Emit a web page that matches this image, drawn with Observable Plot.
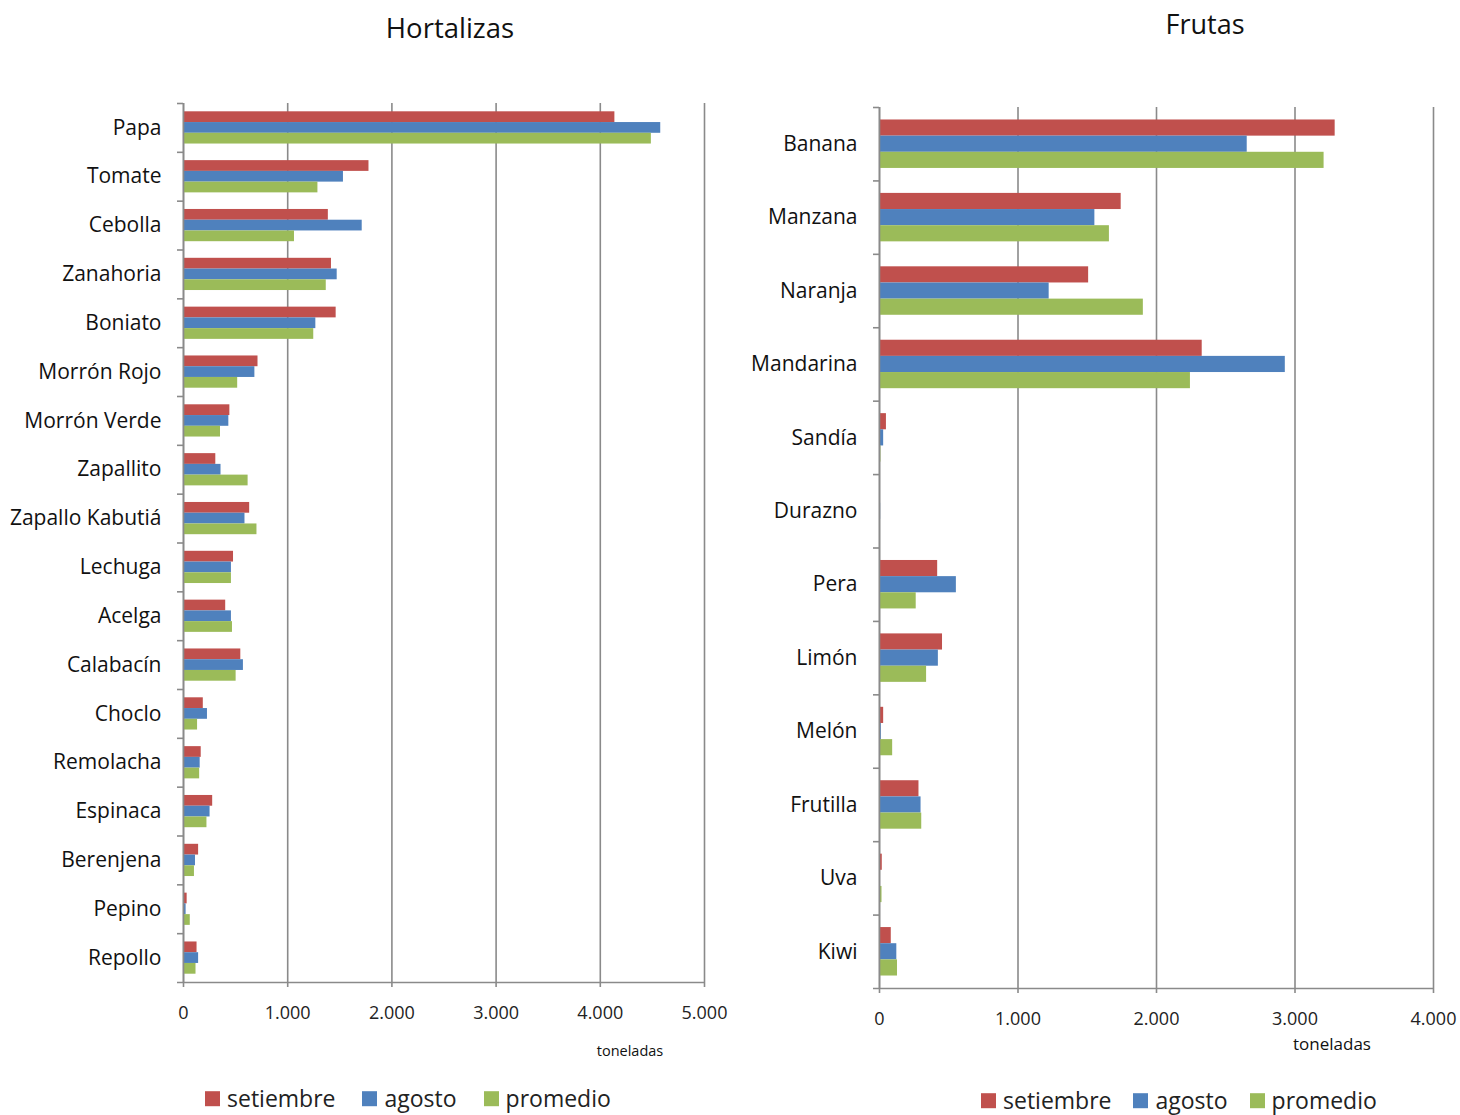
<!DOCTYPE html>
<html>
<head>
<meta charset="utf-8">
<script src="https://cdn.jsdelivr.net/npm/d3@7"></script>
<script src="https://cdn.jsdelivr.net/npm/@observablehq/plot@0.6"></script>
<style>
  body { margin: 0; background: #fff; font-family: "Open Sans", sans-serif; }
  #root { position: relative; width: 1460px; height: 1115px; overflow: hidden; background: #fff; }
  .abs { position: absolute; white-space: nowrap; color: #111; }
  .center { transform: translate(-50%, -50%); }
  .legend { position: absolute; display: flex; align-items: center; font-size: 23px; line-height: 1.2; color: #222; transform: translateY(-50%); }
  .legend .sw { display: inline-block; width: 15px; height: 15px; margin-right: 7px; }
  .legend .item { display: flex; align-items: center; }
  .panel { position: absolute; top: 0; }
  .panel svg { overflow: visible; }
</style>
</head>
<body>
<div id="root"></div>
<script>
// ---------- data ----------
const series = ["setiembre", "agosto", "promedio"];
const seriesColors = ["#C0504D", "#4F81BD", "#9BBB59"];

const hortCategories = ["Papa", "Tomate", "Cebolla", "Zanahoria", "Boniato", "Morrón Rojo", "Morrón Verde",
  "Zapallito", "Zapallo Kabutiá", "Lechuga", "Acelga", "Calabacín", "Choclo", "Remolacha", "Espinaca",
  "Berenjena", "Pepino", "Repollo"];
const hortSetiembre = [4140, 1780, 1390, 1420, 1465, 715, 445, 310, 635, 480, 405, 550, 190, 170, 280, 145, 35, 130];
const hortAgosto    = [4580, 1535, 1715, 1475, 1270, 685, 435, 360, 590, 460, 460, 575, 230, 160, 255, 115, 25, 145];
const hortPromedio  = [4490, 1290, 1065, 1370, 1250, 520, 355, 620, 705, 460, 470, 505, 135, 155, 225, 105, 65, 120];
const hortTicks = [0, 1000, 2000, 3000, 4000, 5000];

const frutCategories = ["Banana", "Manzana", "Naranja", "Mandarina", "Sandía", "Durazno", "Pera", "Limón",
  "Melón", "Frutilla", "Uva", "Kiwi"];
const frutSetiembre = [3290, 1745, 1510, 2330, 50, 0, 420, 455, 30, 285, 20, 85];
const frutAgosto    = [2655, 1555, 1225, 2930, 30, 8, 555, 425, 13, 300, 0, 125];
const frutPromedio  = [3210, 1660, 1905, 2245, 10, 4, 265, 340, 95, 305, 18, 130];
const frutTicks = [0, 1000, 2000, 3000, 4000];

const titles = ["Hortalizas", "Frutas"];
const unitLabel = "toneladas";

// ---------- helpers ----------
const fmt = d => d === 0 ? "0" : d3.format(",")(d).replace(/,/g, ".");
const GRID = "#8a8a8a";

function panel({categories, values, ticks, width, height, marginLeft, marginRight, marginTop, marginBottom}) {
  const rows = [];
  series.forEach((s, i) => categories.forEach((c, j) => rows.push({cat: c, series: s, value: values[i][j]})));
  const bw = (height - marginTop - marginBottom) / categories.length;
  const OUT = 0.17, BAR = 0.22;
  const bars = series.map((s, i) => Plot.barX(rows.filter(r => r.series === s), {
    y: "cat", x: "value", fill: seriesColors[i],
    insetTop: bw * (OUT + BAR * i),
    insetBottom: bw * (1 - OUT - BAR * (i + 1))
  }));
  const last = categories[categories.length - 1];
  const xmax = ticks[ticks.length - 1];
  return Plot.plot({
    width, height, marginLeft, marginRight, marginTop, marginBottom,
    style: {fontFamily: "Open Sans", background: "transparent", color: "#111"},
    x: {domain: [ticks[0], xmax]},
    y: {domain: categories, padding: 0, round: false},
    marks: [
      Plot.gridX(ticks, {stroke: GRID, strokeOpacity: 1, strokeWidth: 1.6}),
      ...bars,
      Plot.ruleX([0], {stroke: GRID, strokeWidth: 1.6}),
      Plot.axisX(ticks, {tickSize: 5, tickPadding: 19, fontSize: 18, tickFormat: fmt, stroke: GRID, strokeWidth: 1.6, fill: "#222", label: null}),
      Plot.axisY({tickSize: 0, tickPadding: 22, fontSize: 21, fill: "#111", label: null}),
      Plot.ruleY(categories, {y: d => d, x1: 0, x2: 0, insetLeft: -6, dy: -bw / 2, stroke: GRID, strokeWidth: 1.6}),
      Plot.ruleY([last], {y: d => d, x1: 0, x2: xmax, insetLeft: -6, dy: bw / 2, stroke: GRID, strokeWidth: 1.6})
    ]
  });
}

const root = document.getElementById("root");

function place(node, left) {
  const div = document.createElement("div");
  div.className = "panel";
  div.style.left = left + "px";
  div.appendChild(node);
  root.appendChild(div);
}

place(panel({
  categories: hortCategories, values: [hortSetiembre, hortAgosto, hortPromedio], ticks: hortTicks,
  width: 740, height: 1115, marginLeft: 183, marginRight: 36, marginTop: 103, marginBottom: 133
}), 0);

place(panel({
  categories: frutCategories, values: [frutSetiembre, frutAgosto, frutPromedio], ticks: frutTicks,
  width: 720, height: 1115, marginLeft: 139, marginRight: 27, marginTop: 107, marginBottom: 127
}), 740);

function text(str, x, y, size) {
  const d = document.createElement("div");
  d.className = "abs center";
  d.style.left = x + "px";
  d.style.top = y + "px";
  d.style.fontSize = size + "px";
  d.textContent = str;
  root.appendChild(d);
}
text(titles[0], 450, 27, 27.5);
text(titles[1], 1205, 23, 27);
text(unitLabel, 630, 1050, 14.5);
text(unitLabel, 1332, 1043, 17);

function legend(x, y, gap) {
  const lg = document.createElement("div");
  lg.className = "legend";
  lg.style.left = x + "px";
  lg.style.top = y + "px";
  series.forEach((s, i) => {
    const it = document.createElement("div");
    it.className = "item";
    it.style.marginRight = gap + "px";
    const sw = document.createElement("span");
    sw.className = "sw";
    sw.style.background = seriesColors[i];
    it.appendChild(sw);
    it.appendChild(document.createTextNode(s));
    lg.appendChild(it);
  });
  root.appendChild(lg);
}
legend(205, 1099, 27);
legend(981, 1101, 22);
</script>
</body>
</html>
